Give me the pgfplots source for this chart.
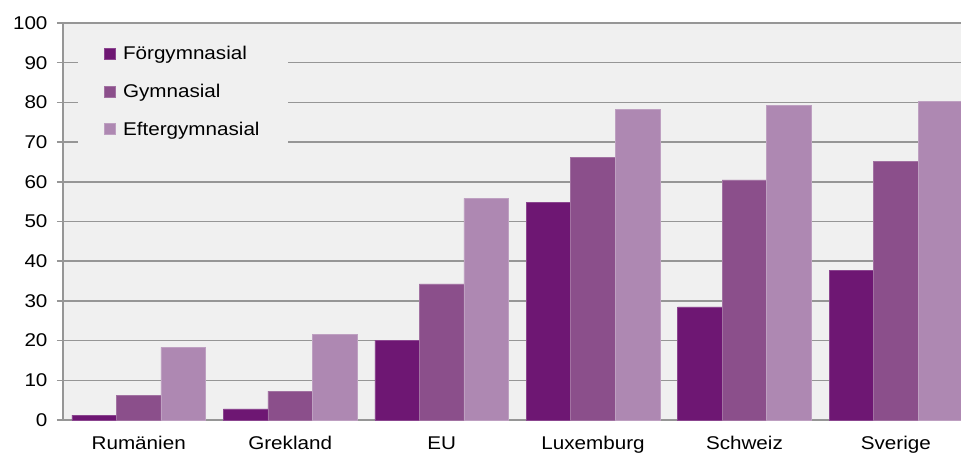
\documentclass[border=0pt]{standalone}
\usepackage{fontspec}
\setmainfont[FakeStretch=1.12]{Liberation Sans}
\usepackage{pgfplots}
\pgfplotsset{compat=1.18}
\definecolor{cF}{RGB}{110,23,115}
\definecolor{cG}{RGB}{139,79,139}
\definecolor{cE}{RGB}{174,136,178}
\definecolor{bgc}{RGB}{240,240,240}
\definecolor{gridc}{RGB}{150,150,150}
\begin{document}
\begin{tikzpicture}
\begin{axis}[
  scale only axis, width=898bp, height=397bp,
  xmin=-0.5, xmax=5.43, ymin=0, ymax=100,
  ybar, bar width=0.294,
  axis background/.style={fill=bgc},
  axis x line*=bottom, axis y line*=left,
  axis line style={gridc, line width=1.5bp},
  ytick={0,10,...,100},
  ymajorgrids, grid style={gridc, line width=1.5bp},
  ytick pos=left, tick align=outside, major tick length=6bp,
  ytick style={gridc, line width=1.5bp},
  xtick={0,1,2,3,4,5},
  xticklabels={Rumänien,Grekland,EU,Luxemburg,Schweiz,Sverige},
  xtick style={draw=none},
  /pgf/number format/assume math mode=true,
  tick label style={font=\fontsize{18.5}{22}\selectfont},
  yticklabel style={xshift=-6bp},
  xticklabel style={yshift=-7bp},
  legend style={at={(rel axis cs:0.017,0.995)}, anchor=north west, draw=none, fill=bgc,
    font=\fontsize{18.5}{22}\selectfont, inner xsep=26bp, inner ysep=19bp, row sep=19bp},
  legend cell align=left,
  legend image code/.code={\fill[#1] (0bp,-5.5bp) rectangle (11bp,5.5bp); \path (16bp,0bp);},
]
\addplot[fill=cF, draw=cF!80!white, line width=0.6bp, bar shift=-0.294] coordinates {(0,1.2) (1,2.8) (2,20.1) (3,54.8) (4,28.5) (5,37.6)};
\addplot[fill=cG, draw=cG!80!white, line width=0.6bp, bar shift=0] coordinates {(0,6.1) (1,7.3) (2,34.3) (3,66.1) (4,60.5) (5,65.2)};
\addplot[fill=cE, draw=cE!80!white, line width=0.6bp, bar shift=0.294] coordinates {(0,18.3) (1,21.6) (2,55.8) (3,78.3) (4,79.3) (5,80.2)};
\legend{Förgymnasial,Gymnasial,Eftergymnasial}
\end{axis}
\pgfresetboundingbox
\path[use as bounding box] (current axis.south west) ++(-63bp,-36bp) rectangle ([yshift=23bp]current axis.north east);
\end{tikzpicture}
\end{document}
